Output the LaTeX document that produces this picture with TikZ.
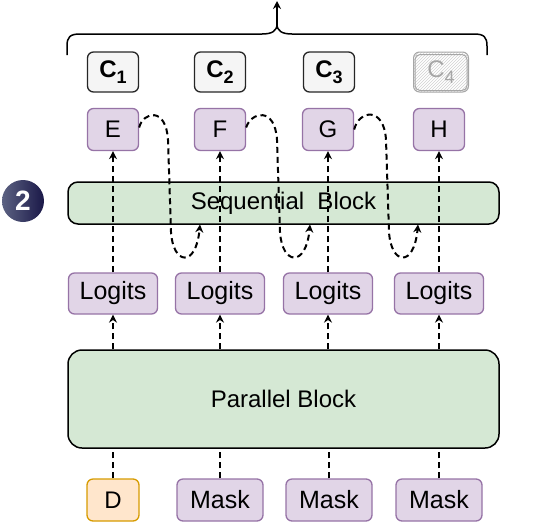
\documentclass[tikz,border=0pt]{standalone}
\usepackage{fontspec}
\setmainfont{Liberation Sans}
\usetikzlibrary{arrows.meta,patterns,calc}
\definecolor{purfill}{HTML}{E1D5E7}
\definecolor{purline}{HTML}{9673A6}
\definecolor{grnfill}{HTML}{D5E8D4}
\definecolor{orfill}{HTML}{FFE6CC}
\definecolor{orline}{HTML}{D79B00}
\definecolor{cfill}{HTML}{F5F5F5}
\definecolor{badgeL}{HTML}{5C6282}
\definecolor{badgeR}{HTML}{1A1848}
\newcommand{\csubtxt}[1]{C\raisebox{-6pt}{\fontsize{18}{19}\selectfont #1}}
\begin{document}
\begin{tikzpicture}[x=1pt,y=-1pt,
  box/.style={draw, rounded corners=6pt, line width=1.3pt, minimum height=41pt, inner sep=0pt, font=\fontsize{25}{27}\selectfont},
  pur/.style={box, fill=purfill, draw=purline},
  blk/.style={draw=black, fill=grnfill, rounded corners=10pt, line width=1.5pt, inner sep=0pt, font=\fontsize{24}{26}\selectfont},
  cbox/.style={box, fill=cfill, draw=black!85, minimum width=51pt, minimum height=40pt, font=\bfseries\fontsize{24}{26}\selectfont},
  letter/.style={font=\fontsize{24}{26}\selectfont},
  dline/.style={dash pattern=on 6pt off 4pt, line width=2pt},
  arr/.style={dline, -{Stealth[length=8pt,width=8pt]}}
]
\useasboundingbox (0,0) rectangle (548,528);

% blocks
\node[blk, minimum width=431pt, minimum height=42pt] (seq) at (283.5,203) {Sequential\ \ Block};
\node[blk, minimum width=431pt, minimum height=98pt, rounded corners=14pt] (par) at (283.5,399) {Parallel Block};

% badge
\node[circle, minimum size=42pt, inner sep=0pt, left color=badgeL, right color=badgeR, text=white, font=\bfseries\fontsize{28}{30}\selectfont] (badge) at (23,201) {2};

% C boxes
\node[cbox] (c1) at (113,72) {\csubtxt{1}};
\node[cbox] (c2) at (220,72) {\csubtxt{2}};
\node[cbox] (c3) at (329,72) {\csubtxt{3}};
\node[box, minimum width=55pt, minimum height=40pt, draw=black!35, line width=1pt, pattern=north east lines, pattern color=black!18, text=black!35, font=\fontsize{24}{26}\selectfont] (c4) at (441,72) {\csubtxt{4}};
\draw[black!35, line width=1pt, rounded corners=5pt] ($(c4.south west)+(2,-2)$) rectangle ($(c4.north east)+(-2,3)$);

% brace
\coordinate (bl) at (67,55);
\coordinate (br) at (487,55);
\coordinate (bm) at (277,24);
\coordinate (btop) at (277,1);
\draw[line width=1.5pt] (bl) -- (67,46) .. controls (67,37) and (70,34) .. (80,34) -- (262,34) .. controls (272,34) and (277,31) .. (bm)
  .. controls (277,31) and (282,34) .. (292,34) -- (474,34) .. controls (484,34) and (487,37) .. (487,46) -- (br);
\draw[line width=1.5pt, -{Stealth[length=8pt,width=8pt]}] (bm) -- (btop);

% E F G H
\node[pur, letter, minimum width=51pt, minimum height=42pt] (e) at (113,129.5) {E};
\node[pur, letter, minimum width=51pt, minimum height=42pt] (f) at (220,129.5) {F};
\node[pur, letter, minimum width=51pt, minimum height=42pt] (g) at (328,129.5) {G};
\node[pur, letter, minimum width=51pt, minimum height=42pt] (h) at (439,129.5) {H};

% Logits
\node[pur, minimum width=89pt] (l1) at (113,293.5) {Logits};
\node[pur, minimum width=89pt] (l2) at (220,293.5) {Logits};
\node[pur, minimum width=89pt] (l3) at (328,293.5) {Logits};
\node[pur, minimum width=89pt] (l4) at (439,293.5) {Logits};

% bottom inputs
\node[box, letter, fill=orfill, draw=orline, minimum width=52pt, minimum height=42pt] (d) at (113,500) {D};
\node[pur, minimum width=86pt, minimum height=42pt] (m1) at (220,500) {Mask};
\node[pur, minimum width=86pt, minimum height=42pt] (m2) at (329,500) {Mask};
\node[pur, minimum width=86pt, minimum height=42pt] (m3) at (439,500) {Mask};

% inputs to parallel block
\draw[dline] (d.north) -- (d.north |- par.south);
\draw[dline] (m1.north) -- (m1.north |- par.south);
\draw[dline] (m2.north) -- (m2.north |- par.south);
\draw[dline] (m3.north) -- (m3.north |- par.south);

% parallel block to logits
\draw[arr] (l1.south |- par.north) -- (l1.south);
\draw[arr] (l2.south |- par.north) -- (l2.south);
\draw[arr] (l3.south |- par.north) -- (l3.south);
\draw[arr] (l4.south |- par.north) -- (l4.south);

% logits to outputs
\draw[arr] (l1.north) -- (e.south);
\draw[arr] (l2.north) -- (f.south);
\draw[arr] (l3.north) -- (g.south);
\draw[arr] (l4.north) -- (h.south);

% feedback loops
\coordinate (s1) at (200,224.5);
\coordinate (s2) at (310,224.5);
\coordinate (s3) at (418,224.5);
\draw[arr] ([yshift=2pt]e.east) .. controls (143,112) and (166,106) .. (168,140) -- (171,232)
  .. controls (173,265) and (196,268) .. (s1);
\draw[arr] ([yshift=2pt]f.east) .. controls (251,112) and (275,106) .. (277,140) -- (280,232)
  .. controls (282,265) and (306,268) .. (s2);
\draw[arr] ([yshift=0pt]g.east) .. controls (359,110) and (384,106) .. (386,140) -- (389,232)
  .. controls (391,265) and (414,268) .. (s3);
\end{tikzpicture}
\end{document}
